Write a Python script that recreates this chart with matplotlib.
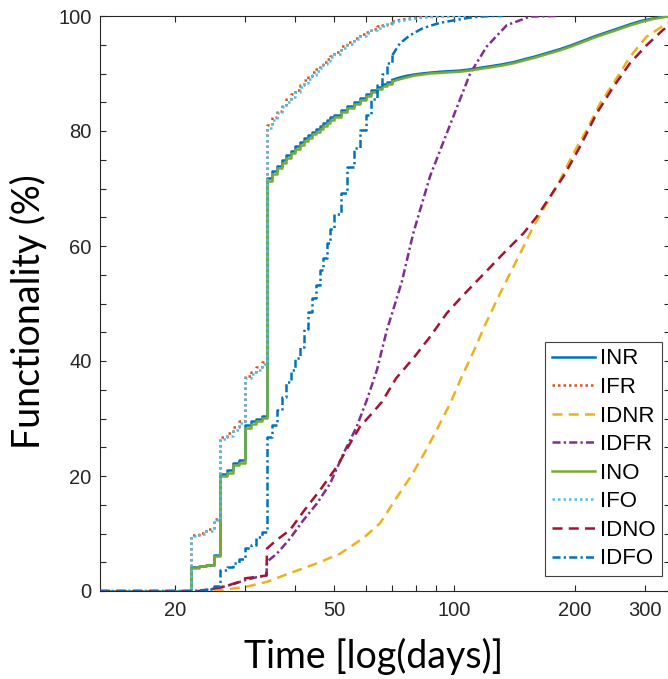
import numpy as np
import matplotlib
matplotlib.use('Agg')
import matplotlib.pyplot as plt
from matplotlib.ticker import FixedLocator, NullFormatter

nan = np.nan

# shared day grid for the staircase series (daily steps up to day 70)
days_step = [13] + list(range(22, 51)) + list(range(52, 71, 2)) + \
    [73, 76, 79, 83, 87, 92, 97, 103, 109, 116, 124, 132, 141, 150, 160, 171,
     183, 196, 210, 225, 241, 258, 276, 295, 315, 335, 346]

inr = [0,
       4.1, 4.4, 4.6, 6.3, 20.3, 21.0, 22.3, 22.7, 28.8, 29.5, 30.0, 30.5,
       71.8, 73.0, 74.0, 74.9, 75.8, 76.6, 77.4, 78.1, 78.7, 79.3, 79.9, 80.4,
       80.9, 81.4, 81.9, 82.4, 82.8,
       83.7, 84.4, 85.1, 85.8, 86.5, 87.1, 87.6, 88.1, 88.5, 88.9,
       89.3, 89.6, 89.8, 90.0, 90.15, 90.3, 90.4, 90.5, 90.7, 91.0, 91.3, 91.6,
       92.0, 92.5, 93.0, 93.6, 94.2, 94.9, 95.7, 96.5, 97.2, 97.9, 98.6, 99.2,
       99.6, 99.9, 100]

ino = [0,
       4.0, 4.3, 4.5, 6.1, 20.0, 20.6, 21.9, 22.3, 28.4, 29.1, 29.6, 30.1,
       71.3, 72.5, 73.5, 74.4, 75.3, 76.2, 76.9, 77.6, 78.2, 78.8, 79.4, 79.9,
       80.4, 80.9, 81.4, 81.9, 82.4,
       83.3, 84.0, 84.7, 85.4, 86.1, 86.8, 87.3, 87.8, 88.2, 88.6,
       89.0, 89.3, 89.6, 89.8, 90.0, 90.1, 90.2, 90.3, 90.5, 90.8, 91.1, 91.4,
       91.8, 92.3, 92.8, 93.4, 94.0, 94.7, 95.5, 96.3, 97.0, 97.7, 98.4, 99.0,
       99.5, 99.8, 100]

ifr = [0,
       9.7, 10.1, 10.8, 12.6, 26.8, 27.5, 28.5, 29.6, 37.4, 38.1, 38.9, 39.8,
       81.0, 82.4, 83.5, 84.5, 85.5, 86.4, 87.2, 88.0, 88.8, 89.5, 90.2, 90.8,
       91.4, 92.0, 92.6, 93.1, 93.7,
       94.7, 95.5, 96.2, 96.8, 97.3, 97.8, 98.2, 98.5, 98.8, 99.0,
       99.3, 99.5, 99.6, 99.8, 99.9, 99.95, 100, 100, nan, nan, nan, nan,
       nan, nan, nan, nan, nan, nan, nan, nan, nan, nan, nan, nan,
       nan, nan, nan]

ifo = [0,
       9.6, 9.9, 10.5, 12.3, 26.4, 27.0, 28.0, 29.2, 37.0, 37.7, 38.5, 39.5,
       80.6, 82.0, 83.1, 84.1, 85.1, 86.0, 86.8, 87.6, 88.4, 89.1, 89.8, 90.4,
       91.0, 91.6, 92.2, 92.8, 93.4,
       94.4, 95.2, 96.0, 96.6, 97.1, 97.6, 98.0, 98.3, 98.6, 98.8,
       99.1, 99.3, 99.5, 99.7, 99.8, 99.9, 99.95, 100, 100, nan, nan, nan,
       nan, nan, nan, nan, nan, nan, nan, nan, nan, nan, nan, nan,
       nan, nan, nan]

idfo = [0,
        0, 0.2, 0.4, 0.9, 3.6, 4.2, 4.8, 5.5, 7.4, 8.0, 9.4, 10.3,
        26.8, 28.8, 31.5, 33.8, 36.4, 38.5, 40.5, 42.5, 45.5, 48.5, 51.0, 53.3,
        55.8, 58.0, 60.5, 63.0, 65.5,
        69.2, 73.7, 77.0, 80.1, 82.8, 85.6, 88.0, 90.0, 91.8, 93.2,
        95.2, 96.2, 97.0, 97.8, 98.3, 98.8, 99.1, 99.4, 99.7, 99.9, 100, 100,
        nan, nan, nan, nan, nan, nan, nan, nan, nan, nan, nan, nan,
        nan, nan, nan]

# smoother series, each with its own days
idnr_days = [13, 25, 27, 30, 34, 38.8, 45.3, 51.8, 59.2, 65.2, 71.5, 78.3, 84.5,
             91.2, 97.6, 104.4, 111.6, 119.4, 127.7, 135.2, 146.0, 157.6, 170.2,
             183.8, 198.4, 214.3, 231.4, 249.9, 274.9, 302.2, 339.6, 346]
idnr = [0, 0, 0.3, 0.7, 1.6, 3.1, 4.8, 6.5, 9.2, 11.8, 16.1, 20.2, 24.2,
        28.6, 32.6, 37.3, 41.6, 46.3, 50.6, 54.1, 58.7, 63.4, 67.4,
        71.5, 76.1, 80.2, 84.8, 88.3, 92.9, 96.4, 98.7, 99.0]

idfr_days = [13, 22, 24, 26, 28, 30, 32, 33.9, 34, 36, 38.8, 41.9, 45.3, 48.9,
             52.8, 57.0, 60.4, 64.0, 67.8, 71.1, 73.9, 78.9, 86.9, 95.7, 109.5,
             120.5, 135.2, 154.6, 180]
idfr = [0, 0, 0.2, 0.6, 1.2, 1.9, 2.4, 2.7, 5.1, 6.5, 9.1, 12.3, 15.2, 18.7,
        23.9, 28.6, 33.2, 38.4, 45.4, 50.0, 53.8, 62.2, 72.1, 79.6, 90.0,
        94.7, 98.4, 99.9, 100]

idno_days = [13, 24, 25, 27, 29, 30, 33.9, 34, 36, 38.8, 41.9, 46.2, 50.8, 54.9,
             58.1, 62.8, 65.9, 71.5, 79.0, 86.9, 95.7, 104.4, 116, 132.6, 148.8,
             160.7, 173.5, 187.4, 206.2, 227, 249.9, 274.9, 302.2, 332.6, 346]
idno = [0, 0, 0.4, 0.9, 1.6, 2.2, 2.7, 7.4, 8.9, 10.6, 13.8, 17.6, 21.6, 25.7,
        28.6, 31.2, 32.9, 37.0, 40.5, 44.2, 48.3, 51.2, 54.5, 58.7, 62.2,
        65.1, 68.6, 72.1, 77.3, 83.1, 87.7, 91.8, 94.9, 97.6, 98.4]

labels = ['INR', 'IFR', 'IDNR', 'IDFR', 'INO', 'IFO', 'IDNO', 'IDFO']

blue, orange, yellow, purple = '#0072BD', '#D95319', '#EDB120', '#7E2F8E'
green, cyan, red = '#77AC30', '#4DBEEE', '#A2142F'

dash = (4, 2.5)
dot = (1, 1.2)
dashdot = (3.2, 1.3, 0.9, 1.3)
lw = 1.8

fig = plt.figure(figsize=(6.68, 6.79), dpi=100)
ax = fig.add_axes([100 / 668, 88 / 679, 570 / 668, 575 / 679])

series = [
    (days_step, inr, blue, None, True),
    (days_step, ifr, orange, dot, True),
    (idnr_days, idnr, yellow, dash, False),
    (idfr_days, idfr, purple, dashdot, False),
    (days_step, ino, green, None, True),
    (days_step, ifo, cyan, dot, True),
    (idno_days, idno, red, dash, False),
    (days_step, idfo, blue, dashdot, True),
]

k = days_step.index(70)
for (x, y, c, d, stairs), lab in zip(series, labels):
    if stairs:
        # daily staircase first, then the tail where steps are too small to see
        parts = [(x[:k + 1], y[:k + 1], 'steps-post', lab),
                 (x[k:], y[k:], 'default', '_nolegend_')]
    else:
        parts = [(x, y, 'default', lab)]
    for px, py, ds, name in parts:
        line, = ax.plot(px, py, color=c, lw=lw, label=name, zorder=3, drawstyle=ds)
        if d is not None:
            line.set_dashes(d)

ax.set_xscale('log')
ax.set_xlim(13, 346)
ax.set_ylim(0, 100)

ax.xaxis.set_major_locator(FixedLocator([20, 50, 100, 200, 300]))
ax.xaxis.set_minor_locator(FixedLocator([30, 40, 60, 70, 80, 90]))
ax.xaxis.set_minor_formatter(NullFormatter())
ax.set_xticklabels(['20', '50', '100', '200', '300'])
ax.set_yticks([0, 20, 40, 60, 80, 100])
ax.yaxis.set_minor_locator(FixedLocator([v for v in range(5, 100, 5) if v % 20]))

tick_col = '#262626'
for which in ('major', 'minor'):
    ax.tick_params(axis='both', which=which, direction='in', length=4.5,
                   width=0.8, color=tick_col, top=True, right=True)
ax.tick_params(axis='x', which='major', pad=7, labelsize=14.5, labelcolor=tick_col)
ax.tick_params(axis='y', which='major', pad=6, labelsize=14.5, labelcolor=tick_col)
for lbl in ax.get_xticklabels() + ax.get_yticklabels():
    lbl.set_family('Liberation Sans')
for sp in ax.spines.values():
    sp.set_color(tick_col)
    sp.set_linewidth(0.8)

ax.set_xlabel('Time [log(days)]', family='Lato', fontsize=27)
ax.set_ylabel('Functionality (%)', family='Lato', fontsize=27)
ax.xaxis.set_label_coords((374 - 100) / 570, (591 - 638) / 575)
ax.yaxis.set_label_coords((47 - 100) / 570, (591 - 312) / 575)

leg = ax.legend(loc='lower right', bbox_to_anchor=((662 - 100) / 570, (591 - 576) / 575),
                borderaxespad=0, handlelength=1.95, handletextpad=0.2,
                borderpad=0.3, labelspacing=0.34, fancybox=False, framealpha=1,
                prop={'family': 'Liberation Sans', 'size': 16})
leg.get_frame().set_edgecolor('#404040')
leg.get_frame().set_linewidth(0.8)

fig.savefig('out.png', dpi=100)
